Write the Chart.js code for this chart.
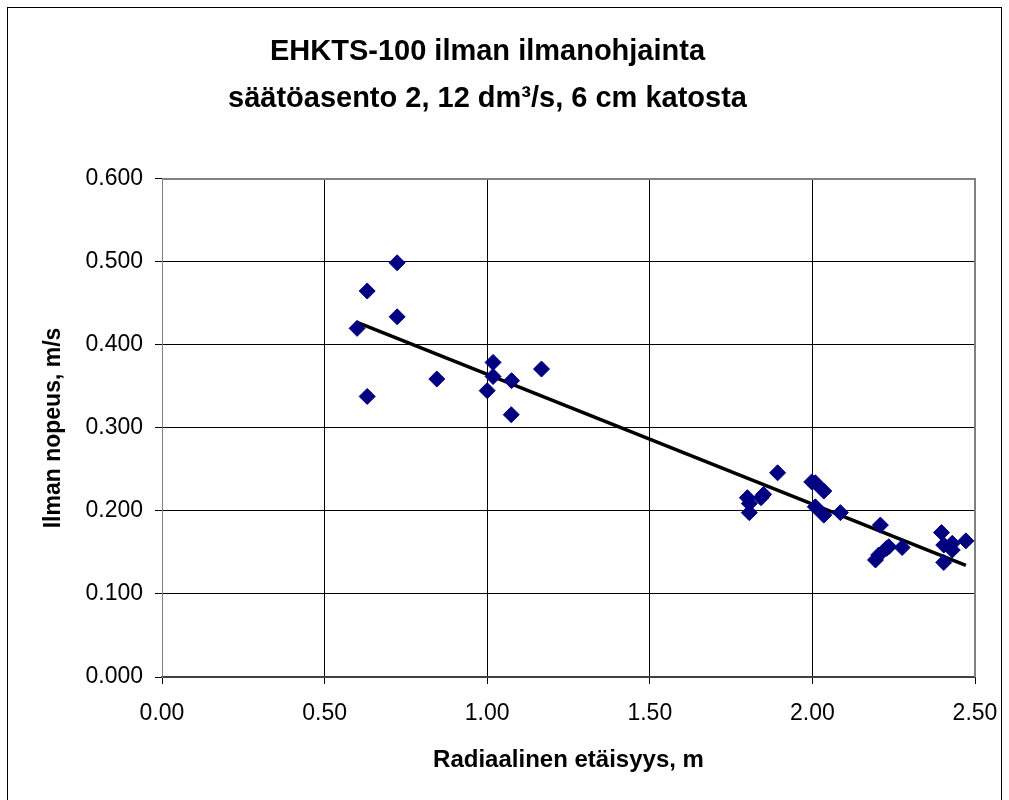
<!DOCTYPE html>
<html>
<head>
<meta charset="utf-8">
<script src="https://cdn.jsdelivr.net/npm/chart.js@4"></script>
<style>
  html, body { margin:0; padding:0; background:#fff; }
  #wrap { width:1009px; height:800px; }
</style>
</head>
<body>
<div id="wrap"><canvas id="kaavio" width="1009" height="800"></canvas></div>
<script>
// Mittauspisteet: radiaalinen etäisyys (m) ja ilman nopeus (m/s)
const etaisyys = [0.600, 0.631, 0.631, 0.723, 0.723, 0.845, 1.000, 1.018, 1.018, 1.075, 1.074, 1.167,
  1.800, 1.806, 1.806, 1.842, 1.850, 1.893, 1.998, 2.009, 2.035, 2.009, 2.035, 2.086,
  2.209, 2.194, 2.204, 2.228, 2.235, 2.276, 2.397, 2.404, 2.430, 2.430, 2.404, 2.472];
const nopeus = [0.420, 0.465, 0.338, 0.499, 0.434, 0.359, 0.345, 0.379, 0.362, 0.357, 0.316, 0.371,
  0.216, 0.209, 0.198, 0.216, 0.220, 0.246, 0.235, 0.234, 0.224, 0.205, 0.195, 0.198,
  0.183, 0.141, 0.147, 0.155, 0.157, 0.156, 0.174, 0.159, 0.161, 0.153, 0.138, 0.164];

const otsikko = ["EHKTS-100 ilman ilmanohjainta", "säätöasento 2, 12 dm³/s, 6 cm katosta"];
const xOtsikko = "Radiaalinen etäisyys, m";
const yOtsikko = "Ilman nopeus, m/s";

const pisteet = etaisyys.map((x, i) => ({ x, y: nopeus[i] }));

// Lineaarinen trendiviiva (pienimmän neliösumman sovitus) datan x-välillä
const n = etaisyys.length;
const mx = etaisyys.reduce((a, b) => a + b, 0) / n;
const my = nopeus.reduce((a, b) => a + b, 0) / n;
let sxy = 0, sxx = 0;
etaisyys.forEach((x, i) => { sxy += (x - mx) * (nopeus[i] - my); sxx += (x - mx) * (x - mx); });
const kulma = sxy / sxx;
const vakio = my - kulma * mx;
const xMin = Math.min(...etaisyys), xMax = Math.max(...etaisyys);
const trendi = [{ x: xMin, y: vakio + kulma * xMin }, { x: xMax, y: vakio + kulma * xMax }];

const fontti = "'Liberation Sans', Arial, sans-serif";

// Kehys koko kaavion ympärille
const kehys = {
  id: 'kehys',
  beforeDraw(chart) {
    const c = chart.ctx;
    c.save();
    c.fillStyle = '#fff';
    c.fillRect(0, 0, chart.width, chart.height);
    c.strokeStyle = '#000';
    c.lineWidth = 1;
    c.strokeRect(7.5, 7.5, 994, 820);
    c.restore();
  }
};

// Harmaat ylä- ja oikea reuna kuva-alueelle
const reunat = {
  id: 'reunat',
  beforeDatasetsDraw(chart) {
    const a = chart.chartArea, c = chart.ctx;
    c.save();
    c.strokeStyle = '#808080';
    c.lineWidth = 2;
    c.beginPath();
    c.moveTo(a.left, a.top); c.lineTo(a.right, a.top); c.lineTo(a.right, a.bottom);
    c.stroke();
    c.restore();
  }
};

new Chart(document.getElementById('kaavio').getContext('2d'), {
  type: 'scatter',
  data: {
    datasets: [
      {
        label: 'mittaus',
        data: pisteet,
        pointStyle: 'rectRot',
        pointRadius: 8,
        pointHoverRadius: 8,
        backgroundColor: '#000080',
        borderColor: '#000080',
        borderWidth: 1
      },
      {
        type: 'line',
        label: 'trendi',
        data: trendi,
        borderColor: '#000',
        borderWidth: 3.5,
        pointRadius: 0,
        fill: false
      }
    ]
  },
  options: {
    responsive: false,
    animation: false,
    layout: { autoPadding: false, padding: { left: 0, right: 34, top: 0, bottom: 0 } },
    plugins: {
      legend: { display: false },
      tooltip: { enabled: false },
      title: {
        display: true,
        text: otsikko,
        color: '#000',
        font: { family: fontti, size: 29, weight: 'bold', lineHeight: 1.62 },
        padding: { top: 29, bottom: 56 }
      }
    },
    scales: {
      x: {
        type: 'linear',
        min: 0, max: 2.5,
        afterFit(s) { s.height = 123; s.paddingLeft = 0; s.paddingRight = 0; },
        ticks: {
          stepSize: 0.5,
          color: '#000',
          padding: 16,
          font: { family: fontti, size: 23 },
          callback: v => v.toFixed(2)
        },
        grid: { color: '#000', lineWidth: 1, tickLength: 7, tickColor: '#000' },
        border: { color: '#404040', width: 2 },
        title: {
          display: true,
          text: xOtsikko,
          color: '#000',
          font: { family: fontti, size: 24, weight: 'bold', lineHeight: 1.2 },
          padding: { top: 0, bottom: 25 }
        }
      },
      y: {
        min: 0, max: 0.6,
        afterFit(s) { s.width = 162; },
        ticks: {
          stepSize: 0.1,
          color: '#000',
          padding: 12,
          font: { family: fontti, size: 23 },
          callback: v => v.toFixed(3)
        },
        grid: { color: '#000', lineWidth: 1, tickLength: 7, tickColor: '#000' },
        border: { color: '#808080', width: 1 },
        title: {
          display: true,
          text: yOtsikko,
          color: '#000',
          font: { family: fontti, size: 23, weight: 'bold', lineHeight: 1.2 },
          padding: { top: 40, bottom: 0 }
        }
      }
    }
  },
  plugins: [kehys, reunat]
});
</script>
</body>
</html>
